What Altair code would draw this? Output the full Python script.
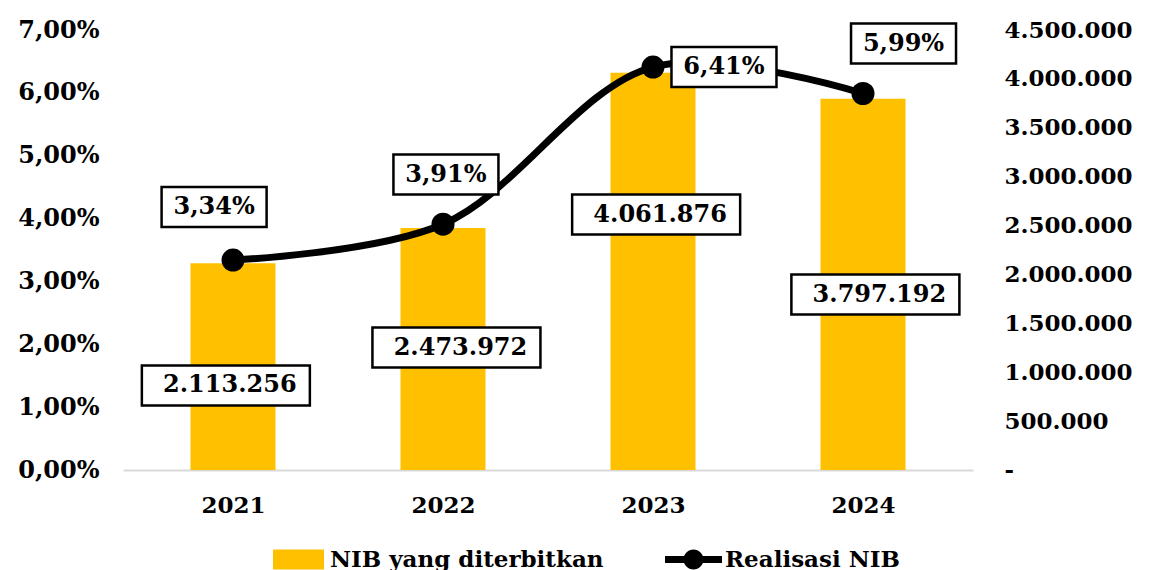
import altair as alt
import pandas as pd

# ---- data ----
years = [2021, 2022, 2023, 2024]
nib_issued = [2113256, 2473972, 4061876, 3797192]        # bars, right axis
realisasi_pct = [3.34, 3.91, 6.41, 5.99]                  # line, left axis
series_bar = "NIB yang diterbitkan"
series_line = "Realisasi NIB"

# ---- label layout (box centres, in axis units / year offsets) ----
bar_label_y = [864205, 1252841, 2613068, 1794886]
bar_label_dx = [-0.034, 0.064, 0.015, 0.059]
pct_label_y = [4.184, 4.701, 6.411, 6.785]
pct_label_dx = [-0.09, 0.014, 0.338, 0.193]

FONT = "DejaVu Serif"
BAR_COLOR = "#FFC000"
W, H = 850, 440
RIGHT_MAX = 4500000
LEFT_MAX = 7
BOX_HALF_PX = 20

bars_df = pd.DataFrame({
    "year": years,
    "value": nib_issued,
    "series": [series_bar] * 4,
    "lx": [y + d for y, d in zip(years, bar_label_dx)],
    "ly": bar_label_y,
    "label": [f"{v:,}".replace(",", ".") for v in nib_issued],
    "w": [168] * 4,
})
bars_df["ly1"] = bars_df["ly"] - BOX_HALF_PX / H * RIGHT_MAX
bars_df["ly2"] = bars_df["ly"] + BOX_HALF_PX / H * RIGHT_MAX

line_df = pd.DataFrame({
    "year": years,
    "pct": realisasi_pct,
    "series": [series_line] * 4,
    "lx": [y + d for y, d in zip(years, pct_label_dx)],
    "ly": pct_label_y,
    "label": [f"{p:.2f}".replace(".", ",") + "%" for p in realisasi_pct],
    "w": [105] * 4,
})
line_df["ly1"] = line_df["ly"] - BOX_HALF_PX / H * LEFT_MAX
line_df["ly2"] = line_df["ly"] + BOX_HALF_PX / H * LEFT_MAX

x_axis = alt.Axis(
    values=years, format="d", title=None, ticks=False, grid=False,
    domain=True, domainColor="#D9D9D9", domainWidth=2,
    labelFont=FONT, labelFontWeight="bold", labelFontSize=23,
    labelColor="black", labelPadding=24,
)
x_scale = alt.Scale(domain=[years[0] - 0.5, years[-1] + 0.5], nice=False, zero=False)


def X(field):
    return alt.X(f"{field}:Q", scale=x_scale, axis=x_axis)


y_right_scale = alt.Scale(domain=[0, RIGHT_MAX], nice=False)
y_left_scale = alt.Scale(domain=[0, LEFT_MAX], nice=False)

right_axis = alt.Axis(
    orient="right", values=list(range(0, RIGHT_MAX + 1, 500000)), title=None,
    ticks=False, domain=False, grid=False,
    labelExpr="datum.value == 0 ? '-' : replace(format(datum.value, ',.0f'), regexp(',', 'g'), '.')",
    labelFont=FONT, labelFontWeight="bold", labelFontSize=23, labelColor="black",
    labelAlign="left", labelPadding=31,
)
left_axis = alt.Axis(
    orient="left", values=list(range(0, LEFT_MAX + 1)), title=None,
    ticks=False, domain=False, grid=False,
    labelExpr="replace(format(datum.value, '.2f'), '.', ',') + '%'",
    labelFont=FONT, labelFontWeight="bold", labelFontSize=24, labelColor="black",
    labelPadding=24,
)

bar_legend = alt.Legend(
    orient="none", legendX=150, legendY=504, title=None, padding=0,
    symbolType="M-1,-0.39H1V0.39H-1Z", symbolSize=2601, symbolStrokeWidth=0,
    labelFont=FONT, labelFontWeight="bold", labelFontSize=23, labelColor="black",
    labelOffset=6, labelLimit=500,
)
line_legend = alt.Legend(
    orient="none", legendX=542, legendY=501, title=None, padding=0,
    symbolType="M-1,-0.12H1V0.12H-1Z M0,-0.35A0.35,0.35,0,1,1,0,0.35A0.35,0.35,0,1,1,0,-0.35Z",
    symbolSize=3249, symbolStrokeWidth=0, symbolFillColor="black",
    labelFont=FONT, labelFontWeight="bold", labelFontSize=23, labelColor="black",
    labelOffset=3, labelLimit=500,
)

base_b = alt.Chart(bars_df)
bars = base_b.mark_bar(size=85).encode(
    x=X("year"),
    y=alt.Y("value:Q", scale=y_right_scale, axis=right_axis),
    color=alt.Color("series:N", scale=alt.Scale(range=[BAR_COLOR]), legend=bar_legend),
)
bar_boxes = base_b.mark_bar(fill="white", stroke="black", strokeWidth=2.5).encode(
    x=X("lx"),
    y=alt.Y("ly1:Q", scale=y_right_scale, axis=right_axis),
    y2="ly2:Q",
    size=alt.Size("w:Q", scale=None, legend=None),
)
bar_texts = base_b.mark_text(
    font=FONT, fontWeight="bold", fontSize=24, color="black", baseline="middle", dx=4
).encode(
    x=X("lx"),
    y=alt.Y("ly:Q", scale=y_right_scale, axis=right_axis),
    text="label:N",
)
bar_group = alt.layer(bars, bar_boxes, bar_texts)

base_l = alt.Chart(line_df)
line = base_l.mark_line(color="black", strokeWidth=7, interpolate="catmull-rom").encode(
    x=X("year"),
    y=alt.Y("pct:Q", scale=y_left_scale, axis=left_axis),
)
points = base_l.mark_point(filled=True, opacity=1, size=530, shape="circle").encode(
    x=X("year"),
    y=alt.Y("pct:Q", scale=y_left_scale, axis=left_axis),
    color=alt.Color("series:N", scale=alt.Scale(range=["black"]), legend=line_legend),
)
pct_boxes = base_l.mark_bar(fill="white", stroke="black", strokeWidth=2.5).encode(
    x=X("lx"),
    y=alt.Y("ly1:Q", scale=y_left_scale, axis=left_axis),
    y2="ly2:Q",
    size=alt.Size("w:Q", scale=None, legend=None),
)
pct_texts = base_l.mark_text(
    font=FONT, fontWeight="bold", fontSize=24, color="black", baseline="middle"
).encode(
    x=X("lx"),
    y=alt.Y("ly:Q", scale=y_left_scale, axis=left_axis),
    text="label:N",
)
line_group = alt.layer(line, points, pct_boxes, pct_texts)

chart = alt.layer(bar_group, line_group).resolve_scale(
    y="independent", color="independent", size="independent"
).properties(
    width=W, height=H,
    autosize=alt.AutoSizeParams(type="none"),
    padding={"left": 115, "top": 22, "right": 168, "bottom": 108},
).configure_view(stroke=None)

chart.save("out.html", embed_options={"renderer": "svg", "actions": False})
